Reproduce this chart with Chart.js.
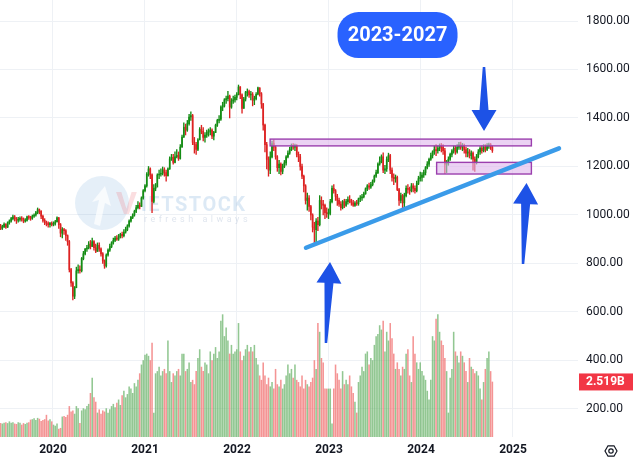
<!DOCTYPE html>
<html>
<head>
<meta charset="utf-8">
<script src="https://cdn.jsdelivr.net/npm/chart.js@4.4.1/dist/chart.umd.min.js"></script>
<style>
  html, body { margin: 0; padding: 0; background: #fff; }
  #wrap { width: 633px; height: 457px; }
</style>
</head>
<body>
<div id="wrap"><canvas id="chart" width="633" height="457"></canvas></div>
<script>
// Nến tuần VN-Index, từ tuần 07/06/2019 đến 11/10/2024
const firstWeek = '2019-06-07';
const firstOpen = 955;

const closes = [
  945,952,962,950,968,975,985,992,985,978,982,986,983,975,978,992,990,986,995,1000,1010,1022,1015,995,978,970,965,960,966,961,
  965,972,988,960,925,940,935,915,890,775,720,665,700,770,775,770,820,840,860,865,880,870,890,865,850,875,860,840,810,790,
  835,855,870,885,895,905,900,910,920,915,930,940,955,975,990,1000,1015,1030,1040,1035,1070,1100,
  1120,1168,1190,1166,1056,1110,1115,1165,1168,1172,1186,1175,1162,1190,1231,1238,1217,1240,1246,1233,1280,1321,1362,1350,1377,1404,1410,1300,1290,1270,
  1310,1353,1345,1320,1330,1340,1345,1350,1325,1340,1370,1390,1395,1445,1450,1475,1480,1490,1445,1470,1475,1485,1498,
  1528,1496,1440,1478,1505,1509,1495,1497,1473,1480,1498,1524,1500,1458,1371,1290,1230,1185,1240,1295,1280,1240,1195,1210,1180,1200,1215,1240,1255,1270,
  1285,1280,1285,1250,1240,1200,1160,1120,1060,1070,1035,1000,950,940,975,960,1060,1045,1040,1010,1005,1007,
  1055,1110,1100,1077,1060,1045,1030,1055,1040,1055,1064,1056,1050,1040,1049,1047,1066,1070,1075,1088,1108,1120,1115,1125,1140,1160,1175,1210,1222,1240,
  1185,1190,1230,1245,1185,1155,1150,1155,1105,1060,1080,1050,1080,1110,1105,1100,1120,1110,1100,1130,1150,1155,
  1165,1175,1195,1210,1230,1245,1260,1270,1265,1275,1285,1280,1265,1210,1215,1230,1250,1265,1275,1260,1280,1290,1280,1285,1270,1255,1260,1245,1255,1230,
  1220,1240,1260,1275,1265,1280,1270,1285,1290,1280,1265
];

const highs = [
  962,958,968,965,972,980,990,1000,998,990,990,992,993,988,985,996,998,995,1000,1005,1015,1029,1025,1018,1000,985,975,972,970,972,
  972,978,992,990,965,948,945,940,918,895,780,725,705,785,795,790,825,850,862,875,890,895,905,895,880,885,885,865,845,815,
  840,860,880,890,905,912,915,920,925,930,940,950,960,980,995,1005,1020,1040,1055,1050,1075,1105,
  1125,1175,1200,1195,1170,1125,1130,1170,1185,1190,1198,1195,1185,1195,1240,1250,1250,1260,1270,1260,1290,1330,1380,1375,1390,1415,1425,1415,1320,1300,
  1315,1360,1370,1360,1340,1350,1355,1360,1355,1345,1375,1395,1410,1450,1465,1480,1490,1510,1495,1480,1490,1495,1505,
  1536,1530,1500,1485,1510,1520,1515,1510,1505,1490,1505,1528,1525,1505,1460,1375,1300,1240,1260,1305,1310,1285,1245,1225,1215,1210,1225,1245,1265,1280,
  1293,1295,1292,1290,1260,1250,1210,1165,1125,1090,1080,1040,1005,970,985,990,1080,1075,1060,1045,1030,1025,
  1065,1120,1125,1105,1085,1070,1055,1060,1065,1065,1075,1080,1065,1060,1055,1060,1070,1080,1085,1095,1112,1125,1132,1135,1145,1165,1185,1215,1240,1248,
  1256,1205,1240,1255,1250,1195,1170,1165,1160,1110,1090,1085,1090,1120,1125,1115,1130,1130,1120,1140,1160,1177,
  1175,1185,1200,1220,1235,1255,1265,1285,1290,1285,1293,1295,1290,1275,1225,1240,1255,1270,1285,1285,1290,1300,1301,1295,1292,1280,1275,1270,1265,1260,
  1240,1250,1270,1282,1285,1290,1290,1295,1297,1295,1285
];

const lows = [
  940,940,948,945,948,962,970,980,975,965,970,975,975,968,970,975,982,978,982,990,995,1005,1005,985,970,960,955,950,950,955,
  955,958,970,945,910,905,920,895,875,765,705,650,655,700,760,760,765,815,835,850,860,860,870,855,845,850,850,830,800,780,
  785,830,850,865,880,890,895,895,905,905,910,925,935,950,970,985,995,1010,1025,1025,1035,1065,
  1095,1115,1160,1150,1010,1050,1100,1120,1150,1160,1165,1160,1140,1160,1188,1225,1210,1215,1235,1225,1230,1280,1320,1330,1345,1370,1390,1290,1255,1250,
  1265,1310,1335,1305,1300,1320,1325,1330,1315,1310,1340,1365,1380,1390,1430,1445,1460,1470,1400,1440,1460,1465,1475,
  1495,1480,1420,1440,1470,1490,1485,1475,1450,1455,1475,1495,1490,1440,1350,1260,1190,1160,1170,1235,1265,1230,1180,1170,1165,1170,1195,1205,1235,1250,
  1265,1270,1265,1240,1220,1185,1150,1095,1045,1020,1015,980,930,880,885,935,955,1025,1000,985,990,985,
  1000,1050,1090,1060,1040,1035,1020,1025,1030,1035,1045,1050,1040,1035,1035,1040,1040,1055,1060,1070,1085,1100,1105,1110,1120,1135,1155,1170,1205,1215,
  1175,1170,1180,1220,1170,1140,1125,1135,1100,1040,1050,1027,1030,1075,1090,1085,1095,1095,1090,1095,1125,1140,
  1140,1155,1165,1190,1200,1225,1235,1250,1245,1255,1265,1260,1250,1170,1175,1205,1225,1240,1255,1250,1255,1270,1270,1265,1255,1240,1240,1235,1230,1185,
  1180,1210,1235,1250,1255,1260,1260,1265,1275,1270,1258
];

// Khối lượng tuần, tỷ cổ phiếu
const volumes = [
  0.62,0.60,0.64,0.66,0.62,0.70,0.64,0.66,0.60,0.58,0.66,0.64,0.55,0.62,0.58,0.64,0.66,0.78,0.80,0.84,0.76,0.86,0.82,0.72,0.76,0.80,1.00,0.74,0.80,0.70,
  0.55,0.50,0.60,0.36,0.40,0.92,0.95,0.90,1.00,1.40,1.15,1.20,1.05,1.40,1.30,0.62,1.20,1.30,1.25,1.40,1.50,2.00,2.70,1.80,1.60,1.10,1.25,1.05,1.20,1.15,
  1.30,1.10,1.25,1.40,1.50,1.35,1.55,1.70,1.45,1.90,2.10,1.80,1.95,2.30,2.20,2.00,2.45,2.30,2.60,2.90,3.30,3.50,
  3.75,3.80,3.70,3.50,4.30,1.10,2.90,3.00,3.20,2.80,3.00,3.10,2.90,4.40,3.00,2.50,2.90,2.80,3.00,3.10,2.80,3.80,3.80,3.00,3.10,3.40,2.50,2.60,2.40,3.00,
  3.60,4.00,3.20,3.00,3.40,3.30,2.90,3.90,3.50,3.80,4.10,3.60,3.90,5.30,5.60,4.60,5.00,4.40,3.80,4.20,3.80,3.90,4.00,
  5.20,3.90,3.50,3.70,4.00,4.20,3.90,4.10,3.90,4.20,3.60,3.30,2.80,2.60,3.40,2.80,2.40,2.70,2.30,2.50,2.20,3.10,2.40,2.30,2.60,2.20,2.40,2.80,3.30,2.90,
  3.10,2.70,3.30,2.60,2.50,2.30,2.80,2.20,2.60,2.40,2.30,2.50,2.70,3.50,3.10,5.20,4.80,3.60,3.40,2.20,2.20,2.20,
  2.20,0.60,2.20,3.30,2.90,2.60,2.20,3.00,2.40,2.60,2.40,2.80,2.30,2.00,1.60,1.10,2.50,2.80,3.20,3.00,3.80,3.90,3.30,3.60,3.50,4.20,4.60,4.70,5.10,4.90,
  5.30,3.90,4.80,4.40,5.20,4.50,3.80,3.10,3.40,3.10,2.80,3.20,3.10,3.80,4.00,2.80,2.50,4.60,3.80,3.40,3.10,3.40,
  3.00,2.80,2.60,2.10,1.70,2.60,4.60,4.40,5.40,5.60,4.80,4.40,4.20,3.60,3.00,1.10,2.70,3.10,4.80,3.90,3.70,3.40,3.90,3.70,3.40,3.00,2.50,3.60,3.20,3.10,
  2.90,3.00,2.80,2.20,1.70,2.50,3.10,3.60,3.90,3.00,2.519
];

const yearTicks = [2020, 2021, 2022, 2023, 2024, 2025];
const priceTicks = [200, 400, 600, 800, 1000, 1200, 1400, 1600, 1800];
const boxLabel = '2023-2027';

// Hình vẽ phân tích, toạ độ (năm, điểm)
const trendLine = [[2022.75, 865], [2025.50, 1275]];
const zones = [
  [2022.36, 1313, 2025.20, 1285],
  [2024.17, 1217, 2025.20, 1169]
];
const arrows = [
  [2024.685, 1610, 2024.685, 1346],
  [2022.967, 472, 2023.011, 806],
  [2025.109, 798, 2025.147, 1132]
];
const boxAnchor = [2023.745, 1742];

const green = '#148c14', red = '#dd2222';
const volGreen = 'rgba(104,178,104,0.72)', volRed = 'rgba(240,112,112,0.75)';
const gridColor = '#eef1f5';
const font = 'Roboto, "Liberation Sans", sans-serif';

function weekToYear(i) {
  const d = new Date(firstWeek + 'T00:00:00Z');
  d.setUTCDate(d.getUTCDate() + 7 * i);
  const y = d.getUTCFullYear();
  const start = Date.UTC(y, 0, 1), end = Date.UTC(y + 1, 0, 1);
  return y + (d - start) / (end - start);
}

const n = Math.min(closes.length, highs.length, lows.length, volumes.length);
const xs = [], opens = [], up = [];
for (let i = 0; i < n; i++) {
  xs.push(weekToYear(i));
  opens.push(i === 0 ? firstOpen : closes[i - 1]);
  up.push(closes[i] >= opens[i]);
}

function drawArrow(ctx, x0, y0, x1, y1) {
  const dx = x1 - x0, dy = y1 - y0, len = Math.hypot(dx, dy);
  const ux = dx / len, uy = dy / len, nx = -uy, ny = ux;
  const headLen = 21, headW = 25, neckW = 9, tailW = 2.5;
  const bx = x1 - ux * headLen, by = y1 - uy * headLen;
  ctx.beginPath();
  ctx.moveTo(x0 + nx * tailW / 2, y0 + ny * tailW / 2);
  ctx.lineTo(bx + nx * neckW / 2, by + ny * neckW / 2);
  ctx.lineTo(bx + nx * headW / 2, by + ny * headW / 2);
  ctx.lineTo(x1, y1);
  ctx.lineTo(bx - nx * headW / 2, by - ny * headW / 2);
  ctx.lineTo(bx - nx * neckW / 2, by - ny * neckW / 2);
  ctx.lineTo(x0 - nx * tailW / 2, y0 - ny * tailW / 2);
  ctx.closePath();
  ctx.fill();
}

const overlays = {
  id: 'overlays',
  beforeDatasetsDraw(chart) {
    // logo chìm
    const ctx = chart.ctx;
    ctx.save();
    ctx.fillStyle = 'rgba(110,165,215,0.18)';
    ctx.beginPath();
    ctx.arc(102, 203, 27, 0, Math.PI * 2);
    ctx.fill();
    ctx.fillStyle = 'rgba(255,255,255,0.7)';
    ctx.beginPath();
    ctx.moveTo(94, 224); ctx.lineTo(99, 200); ctx.lineTo(92, 202); ctx.lineTo(105, 186);
    ctx.lineTo(111, 206); ctx.lineTo(105, 203); ctx.lineTo(100, 226); ctx.closePath();
    ctx.fill();
    ctx.font = 'bold 32px ' + font;
    ctx.textBaseline = 'alphabetic';
    ctx.fillStyle = 'rgba(235,105,115,0.22)';
    ctx.fillText('V', 116, 214);
    ctx.font = 'bold 20px ' + font;
    ctx.letterSpacing = '1.5px';
    ctx.fillStyle = 'rgba(110,165,215,0.24)';
    ctx.fillText('IETSTOCK', 141, 211);
    ctx.font = '9px ' + font;
    ctx.fillStyle = 'rgba(150,170,200,0.3)';
    ctx.letterSpacing = '3.5px';
    ctx.fillText('refresh always', 144, 222);
    ctx.restore();
  },
  afterDatasetsDraw(chart) {
    const ctx = chart.ctx, sx = chart.scales.x, sy = chart.scales.y;
    const px = v => sx.getPixelForValue(v), py = v => sy.getPixelForValue(v);
    ctx.save();
    // vùng kháng cự / hỗ trợ
    zones.forEach(z => {
      const x0 = px(z[0]), y0 = py(z[1]), x1 = px(z[2]), y1 = py(z[3]);
      ctx.fillStyle = 'rgba(222,180,235,0.6)';
      ctx.fillRect(x0, y0, x1 - x0, y1 - y0);
      ctx.strokeStyle = '#9b3fae';
      ctx.lineWidth = 1.4;
      ctx.strokeRect(x0, y0, x1 - x0, y1 - y0);
    });
    // đường xu hướng
    ctx.strokeStyle = '#3a9be9';
    ctx.lineWidth = 4.5;
    ctx.lineCap = 'round';
    ctx.beginPath();
    ctx.moveTo(px(trendLine[0][0]), py(trendLine[0][1]));
    ctx.lineTo(px(trendLine[1][0]), py(trendLine[1][1]));
    ctx.stroke();
    // mũi tên
    ctx.fillStyle = '#1d52e6';
    arrows.forEach(a => drawArrow(ctx, px(a[0]), py(a[1]), px(a[2]), py(a[3])));
    // nhãn
    const bx = px(boxAnchor[0]), by = py(boxAnchor[1]);
    ctx.fillStyle = '#2962ff';
    ctx.beginPath();
    ctx.roundRect(bx - 60, by - 23, 120, 46, 21);
    ctx.fill();
    ctx.fillStyle = '#ffffff';
    ctx.font = 'bold 20px ' + font;
    ctx.textAlign = 'center';
    ctx.textBaseline = 'middle';
    ctx.fillText(boxLabel, bx, by + 1);
    ctx.restore();
  },
  afterDraw(chart) {
    const ctx = chart.ctx, area = chart.chartArea;
    const lastVol = volumes[n - 1];
    const y = chart.scales.yv.getPixelForValue(lastVol);
    ctx.save();
    ctx.fillStyle = '#f23645';
    ctx.fillRect(area.right + 1, y - 8.5, 60, 17);
    ctx.fillStyle = '#ffffff';
    ctx.font = 'bold 12px ' + font;
    ctx.textBaseline = 'middle';
    ctx.fillText(lastVol.toFixed(3) + 'B', area.right + 8, y + 0.5);
    // biểu tượng cài đặt
    const cx = 611, cy = 451, r = 6;
    ctx.strokeStyle = '#131722';
    ctx.lineWidth = 1.2;
    ctx.beginPath();
    for (let k = 0; k < 6; k++) {
      const a = Math.PI / 3 * k;
      const X = cx + r * Math.cos(a), Y = cy + r * Math.sin(a);
      if (k === 0) ctx.moveTo(X, Y); else ctx.lineTo(X, Y);
    }
    ctx.closePath();
    ctx.stroke();
    ctx.beginPath();
    ctx.arc(cx, cy, 2.2, 0, Math.PI * 2);
    ctx.stroke();
    ctx.restore();
  }
};

const xMin = 2019.424, pxPerYear = 92;
const xMax = xMin + 578 / pxPerYear;

new Chart(document.getElementById('chart').getContext('2d'), {
  type: 'bar',
  data: {
    datasets: [
      {
        label: 'Khối lượng',
        data: volumes.slice(0, n).map((v, i) => ({ x: xs[i], y: v })),
        backgroundColor: up.map(u => u ? volGreen : volRed),
        yAxisID: 'yv',
        barThickness: 0.9,
        grouped: false,
        order: 3
      },
      {
        label: 'Bóng nến',
        data: lows.slice(0, n).map((l, i) => ({ x: xs[i], y: [l, highs[i]] })),
        backgroundColor: up.map(u => u ? green : red),
        yAxisID: 'y',
        barThickness: 0.7,
        grouped: false,
        order: 2
      },
      {
        label: 'Thân nến',
        data: closes.slice(0, n).map((c, i) => ({ x: xs[i], y: [opens[i], c] })),
        backgroundColor: up.map(u => u ? green : red),
        yAxisID: 'y',
        barThickness: 1,
        minBarLength: 1,
        grouped: false,
        order: 1
      }
    ]
  },
  options: {
    responsive: false,
    devicePixelRatio: 1,
    animation: false,
    layout: { padding: 0 },
    plugins: { legend: { display: false }, tooltip: { enabled: false } },
    scales: {
      x: {
        type: 'linear',
        min: xMin,
        max: xMax,
        offset: false,
        afterBuildTicks: s => { s.ticks = yearTicks.map(v => ({ value: v })); },
        afterFit: s => { s.height = 20; s.paddingLeft = 0; s.paddingRight = 0; },
        grid: { color: gridColor, offset: false, drawTicks: false },
        border: { display: false },
        ticks: {
          padding: 6,
          color: '#131722',
          font: { family: font, size: 12, weight: 'bold' },
          callback: v => String(v),
          maxRotation: 0
        }
      },
      y: {
        position: 'right',
        min: 84.5,
        max: 1886.6,
        afterBuildTicks: s => { s.ticks = priceTicks.map(v => ({ value: v })); },
        afterFit: s => { s.width = 55; s.paddingTop = 0; s.paddingBottom = 0; },
        grid: { color: gridColor, drawTicks: false },
        border: { display: false },
        ticks: {
          padding: 8,
          color: '#131722',
          font: { family: font, size: 12 },
          callback: v => v.toFixed(2)
        }
      },
      yv: {
        display: false,
        min: 0,
        max: 20
      }
    }
  },
  plugins: [overlays]
});
</script>
</body>
</html>
